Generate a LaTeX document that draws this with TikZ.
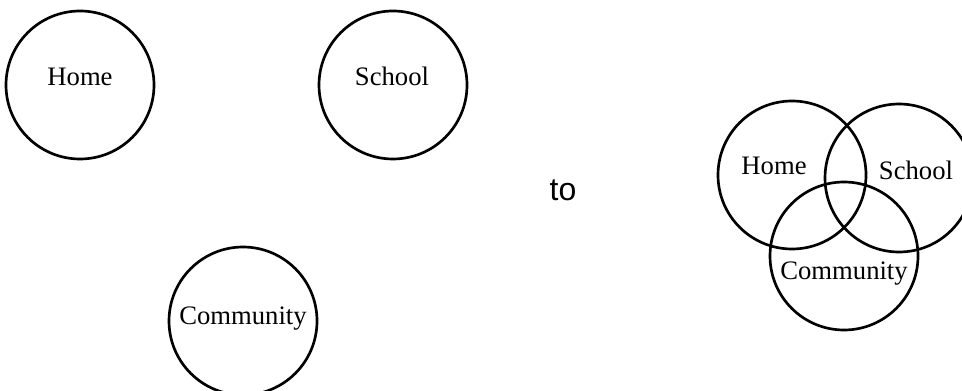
\documentclass[tikz,border=0pt]{standalone}
\usepackage{fontspec}
\setmainfont{Liberation Serif}
\newfontfamily\tofont{Liberation Sans}
\tikzset{
  ring/.style={circle,draw,line width=2pt,minimum size=111pt,inner sep=0pt},
  word/.style={font=\fontsize{20}{23}\selectfont,inner sep=0pt}
}

\begin{document}
\begin{tikzpicture}[x=0.75pt,y=-0.75pt,line cap=round,line join=round]

\useasboundingbox (0,0) rectangle (962,391);

% Define the centres as coordinates
\coordinate (H) at (80,85);
\coordinate (S) at (393,85);
\coordinate (C) at (243,321);
\coordinate (VH) at (792,175);
\coordinate (VS) at (899,178);
\coordinate (VC) at (844,256);

%-----------------------------------------------
% separate circles
\node[ring] (home) at (H) {};
\node[ring] (school) at (S) {};
\node[ring] (community) at (C) {};

\node[word] (homeText) at (80,77) {Home};
\node[word] (schoolText) at (392,76) {School};
\node[word] (communityText) at (243,319) {Community};

%-----------------------------------------------
\node[font=\tofont\fontsize{24}{28}\selectfont,inner sep=0pt] (to) at (563,190) {to};

%-----------------------------------------------
% overlapping circles
\node[ring] (vhome) at (VH) {};
\node[ring] (vschool) at (VS) {};
\node[ring] (vcommunity) at (VC) {};

\node[word] (vhomeText) at (774,166) {Home};
\node[word] (vschoolText) at (916,170) {School};
\node[word] (vcommunityText) at (844,274) {Community};

\end{tikzpicture}
\end{document}
